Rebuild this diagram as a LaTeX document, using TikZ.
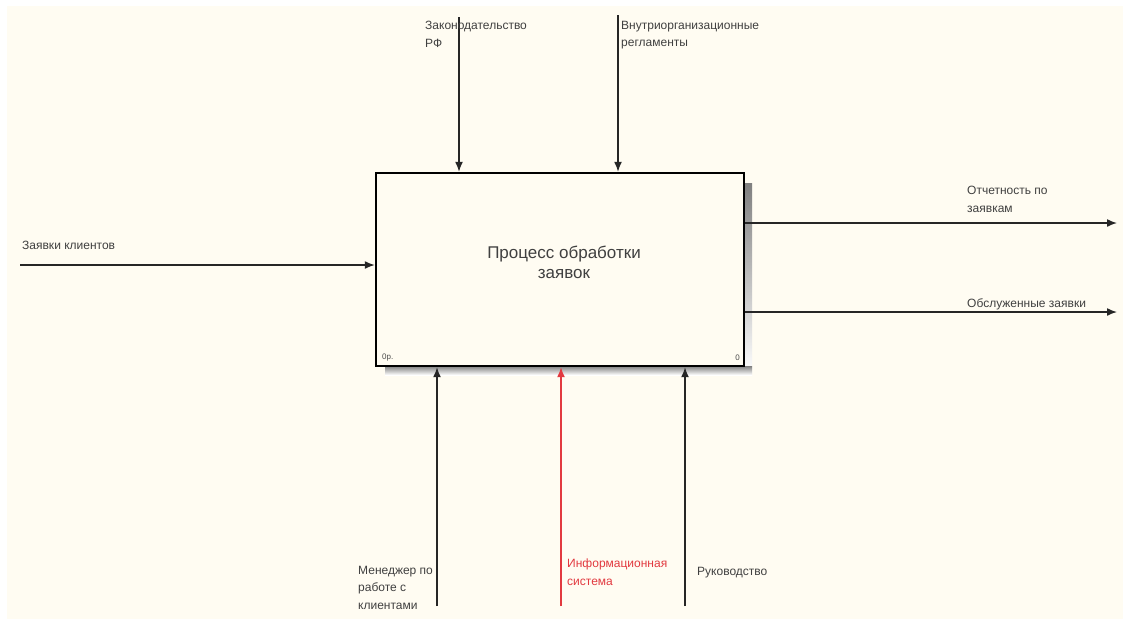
\documentclass[tikz,border=0pt]{standalone}
\usepackage{fontspec}
\setmainfont{Liberation Sans}
\usetikzlibrary{arrows.meta}
\definecolor{paper}{HTML}{FFFCF2}
\definecolor{redflow}{HTML}{E23A40}
\definecolor{shade}{HTML}{BDBDB8}
\tikzset{
  flow/.style={line width=1.5pt, draw=black!85, -{Latex[length=10pt,width=8pt]}},
  redline/.style={flow, draw=redflow, -{Latex[length=10pt,width=8pt,fill=redflow]}},
  lbl/.style={font=\fontsize{12pt}{17.5pt}\selectfont, text=black!75, inner sep=0pt, align=left},
  redlbl/.style={lbl, text=redflow},
  corner/.style={font=\fontsize{8pt}{9pt}\selectfont, text=black!70, inner sep=0pt},
  procbox/.style={draw=black, line width=2.4pt, fill=paper, minimum width=368pt,
    minimum height=193pt, inner sep=0pt}
}
\begin{document}
\begin{tikzpicture}[x=1pt,y=-1pt]
  \useasboundingbox (0,0) rectangle (1123,619);
  \fill[white] (0,0) rectangle (1123,619);
  \fill[paper] (7,6) rectangle (1123,619);

  % drop shadow of the activity box
  \fill[shade] (744,183) rectangle (752,375);
  \fill[shade] (385,366) rectangle (752,375);

  % activity box
  \node[procbox] (proc) at (560,269.5) {};
  \node[font=\fontsize{17pt}{20pt}\selectfont, text=black!75, align=center] (title)
    at (564,262) {Процесс обработки\\ заявок};
  \node[corner, anchor=south west] (num) at (382,361) {0р.};
  \node[corner, anchor=south east] (cost) at (740,361) {0};

  % controls (top)
  \coordinate (lawtop) at (459,17);
  \coordinate (regtop) at (618,15);
  \draw[flow] (lawtop) -- (lawtop |- proc.north);
  \draw[flow] (regtop) -- (regtop |- proc.north);
  \node[lbl, anchor=north west] (law) at (425,21) {Законодательство\\РФ};
  \node[lbl, anchor=north west] (reg) at (621,21) {Внутриорганизационные\\регламенты};

  % input (left)
  \coordinate (intail) at (20,265);
  \draw[flow] (intail) -- (intail -| proc.west);
  \node[lbl, anchor=north west] (inlbl) at (22,241) {Заявки клиентов};

  % outputs (right)
  \coordinate (out1) at (1117,223);
  \coordinate (out2) at (1117,312);
  \draw[flow] (out1 -| proc.east) -- (out1);
  \draw[flow] (out2 -| proc.east) -- (out2);
  \node[lbl, anchor=north west] (out1lbl) at (967,186) {Отчетность по\\заявкам};
  \node[lbl, anchor=north west] (out2lbl) at (967,298) {Обслуженные заявки};

  % mechanisms (bottom)
  \coordinate (mgr) at (437,606);
  \coordinate (info) at (561,606);
  \coordinate (boss) at (685,606);
  \draw[flow] (mgr) -- (mgr |- proc.south);
  \draw[redline] (info) -- (info |- proc.south);
  \draw[flow] (boss) -- (boss |- proc.south);
  \node[lbl, anchor=north west] (mgrlbl) at (358,566) {Менеджер по\\работе с\\клиентами};
  \node[redlbl, anchor=north west] (infolbl) at (567,559) {Информационная\\система};
  \node[lbl, anchor=north west] (bosslbl) at (697,567) {Руководство};
\end{tikzpicture}
\end{document}
